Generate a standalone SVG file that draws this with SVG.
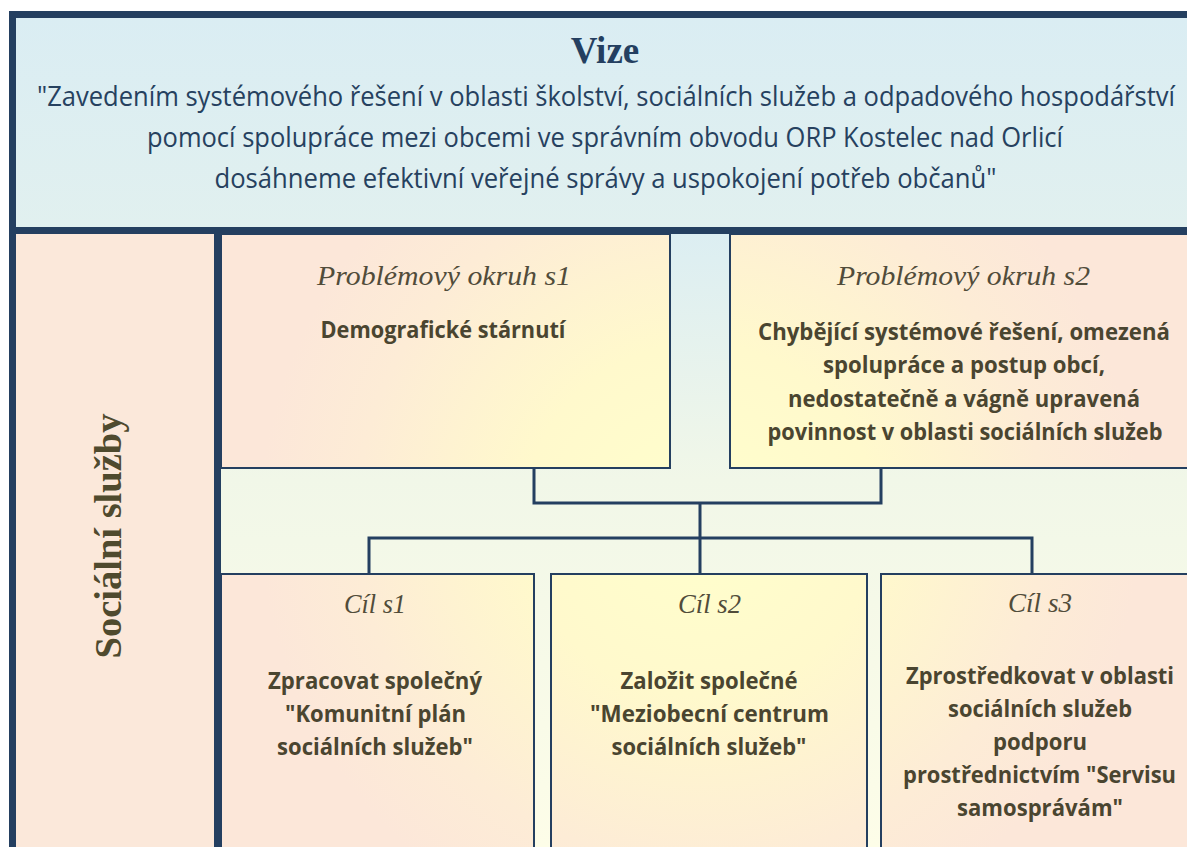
<svg xmlns="http://www.w3.org/2000/svg" width="1187" height="847" viewBox="0 0 1187 847">
  <defs>
    <linearGradient id="visionBg" x1="0" y1="0" x2="0" y2="1">
      <stop offset="0" stop-color="#DAEDF3"/>
      <stop offset="1" stop-color="#E1F0EF"/>
    </linearGradient>
    <linearGradient id="areaBg" gradientUnits="userSpaceOnUse" x1="0" y1="234" x2="0" y2="847">
      <stop offset="0" stop-color="#DCEEF2"/>
      <stop offset="0.4" stop-color="#F1F7E8"/>
      <stop offset="1" stop-color="#FDFDE8"/>
    </linearGradient>
    <radialGradient id="boxFill" gradientUnits="userSpaceOnUse" cx="700" cy="520" r="440">
      <stop offset="0" stop-color="#FFFFCC"/>
      <stop offset="0.4" stop-color="#FFF9CC"/>
      <stop offset="0.78" stop-color="#FDECD6"/>
      <stop offset="1" stop-color="#FCE7D9"/>
    </radialGradient>
  </defs>
  <style>
    .frame { fill: #243F60; }
    .box { fill: url(#boxFill); stroke: #243F60; stroke-width: 2; }
    .conn { fill: none; stroke: #243F60; stroke-width: 3; stroke-linejoin: miter; }
    .vtitle { font-family: "Liberation Serif", serif; font-weight: bold; font-size: 37px; fill: #243F60; text-anchor: middle; }
    .vtext { font-family: "Open Sans", "Liberation Sans", sans-serif; font-size: 27px; fill: #26415F; text-anchor: middle; }
    .hdr { font-family: "Liberation Serif", serif; font-style: italic; font-size: 27px; fill: #514C3A; text-anchor: middle; }
    .body { font-family: "Open Sans", "Liberation Sans", sans-serif; font-weight: bold; font-size: 23px; fill: #4A4530; text-anchor: middle; }
    .side { font-family: "Liberation Serif", serif; font-weight: bold; font-size: 37px; fill: #4F4A2E; text-anchor: middle; }
  </style>

  <!-- backgrounds -->
  <rect x="16" y="18" width="1171" height="209" fill="url(#visionBg)"/>
  <rect x="16" y="234" width="198" height="613" fill="#FBE8DA"/>
  <rect x="221" y="234" width="966" height="613" fill="url(#areaBg)"/>

  <!-- frame -->
  <g id="frame">
    <rect class="frame" x="9" y="11" width="1178" height="7"/>
    <rect class="frame" x="9" y="11" width="7" height="836"/>
    <rect class="frame" x="9" y="227" width="1178" height="7"/>
    <rect class="frame" x="214" y="234" width="7" height="613"/>
  </g>

  <g id="vize">
    <text class="vtitle" x="605" y="63">Vize</text>
    <text class="vtext" x="606" y="106" textLength="1138" lengthAdjust="spacingAndGlyphs">"Zavedením systémového řešení v oblasti školství, sociálních služeb a odpadového hospodářství</text>
    <text class="vtext" x="605" y="147" textLength="916" lengthAdjust="spacingAndGlyphs">pomocí spolupráce mezi obcemi ve správním obvodu ORP Kostelec nad Orlicí</text>
    <text class="vtext" x="605.5" y="188" textLength="782" lengthAdjust="spacingAndGlyphs">dosáhneme efektivní veřejné správy a uspokojení potřeb občanů"</text>
  </g>

  <g id="oblast">
    <text class="side" transform="translate(121,536) rotate(-90)" x="0" y="0" textLength="245" lengthAdjust="spacingAndGlyphs">Sociální služby</text>
  </g>

  <g id="connectors">
    <path class="conn" d="M534 468 V503 H881 V468"/>
    <path class="conn" d="M700 503 V574"/>
    <path class="conn" d="M369 574 V538 H1032 V574"/>
  </g>

  <g id="problem-s1">
    <rect class="box" x="221" y="234" width="449" height="234"/>
    <text class="hdr" x="444" y="285" textLength="254" lengthAdjust="spacingAndGlyphs">Problémový okruh s1</text>
    <text class="body" x="443" y="338" textLength="245" lengthAdjust="spacingAndGlyphs">Demografické stárnutí</text>
  </g>

  <g id="problem-s2">
    <rect class="box" x="730" y="234" width="470" height="234"/>
    <text class="hdr" x="963.5" y="285" textLength="253" lengthAdjust="spacingAndGlyphs">Problémový okruh s2</text>
    <text class="body" x="964" y="340" textLength="412" lengthAdjust="spacingAndGlyphs">Chybějící systémové řešení, omezená</text>
    <text class="body" x="964" y="373" textLength="282" lengthAdjust="spacingAndGlyphs">spolupráce a postup obcí,</text>
    <text class="body" x="964" y="407" textLength="352" lengthAdjust="spacingAndGlyphs">nedostatečně a vágně upravená</text>
    <text class="body" x="965" y="440" textLength="395" lengthAdjust="spacingAndGlyphs">povinnost v oblasti sociálních služeb</text>
  </g>

  <g id="cil-s1">
    <rect class="box" x="221" y="574" width="313" height="290"/>
    <text class="hdr" x="375" y="613" textLength="62" lengthAdjust="spacingAndGlyphs">Cíl s1</text>
    <text class="body" x="375" y="689" textLength="214" lengthAdjust="spacingAndGlyphs">Zpracovat společný</text>
    <text class="body" x="375.5" y="722" textLength="181" lengthAdjust="spacingAndGlyphs">"Komunitní plán</text>
    <text class="body" x="375" y="755" textLength="196" lengthAdjust="spacingAndGlyphs">sociálních služeb"</text>
  </g>

  <g id="cil-s2">
    <rect class="box" x="551" y="574" width="316" height="290"/>
    <text class="hdr" x="709.5" y="613" textLength="63" lengthAdjust="spacingAndGlyphs">Cíl s2</text>
    <text class="body" x="709" y="689" textLength="177" lengthAdjust="spacingAndGlyphs">Založit společné</text>
    <text class="body" x="709.5" y="722" textLength="239" lengthAdjust="spacingAndGlyphs">"Meziobecní centrum</text>
    <text class="body" x="709" y="755" textLength="195" lengthAdjust="spacingAndGlyphs">sociálních služeb"</text>
  </g>

  <g id="cil-s3">
    <rect class="box" x="881" y="574" width="320" height="290"/>
    <text class="hdr" x="1040" y="612" textLength="64" lengthAdjust="spacingAndGlyphs">Cíl s3</text>
    <text class="body" x="1040" y="684" textLength="268" lengthAdjust="spacingAndGlyphs">Zprostředkovat v oblasti</text>
    <text class="body" x="1040" y="717" textLength="184" lengthAdjust="spacingAndGlyphs">sociálních služeb</text>
    <text class="body" x="1040" y="750" textLength="94" lengthAdjust="spacingAndGlyphs">podporu</text>
    <text class="body" x="1039.5" y="783" textLength="273" lengthAdjust="spacingAndGlyphs">prostřednictvím "Servisu</text>
    <text class="body" x="1040" y="816" textLength="166" lengthAdjust="spacingAndGlyphs">samosprávám"</text>
  </g>
</svg>
